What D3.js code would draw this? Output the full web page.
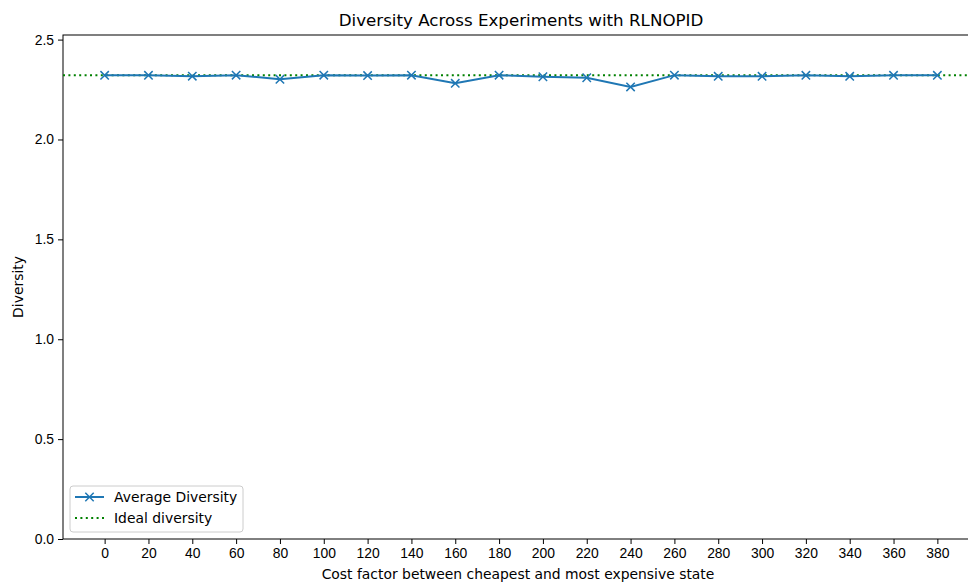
<!DOCTYPE html>
<html>
<head>
<meta charset="utf-8">
<script src="https://cdn.jsdelivr.net/npm/d3@7"></script>
<style>
  body { margin: 0; background: #fff; }
  svg { font-family: "DejaVu Sans", sans-serif; }
</style>
</head>
<body>
<div id="chart"></div>
<script>
// data
const costFactors = [0, 20, 40, 60, 80, 100, 120, 140, 160, 180, 200, 220, 240, 260, 280, 300, 320, 340, 360, 380];
const avgDiversity = [2.321, 2.321, 2.317, 2.322, 2.301, 2.322, 2.320, 2.322, 2.281, 2.322,
                      2.314, 2.309, 2.263, 2.322, 2.316, 2.316, 2.321, 2.316, 2.321, 2.321];
const idealDiversity = Math.log2(5);
const yTicks = [0, 0.5, 1.0, 1.5, 2.0, 2.5];

const width = 968, height = 583;
const margin = {top: 35, right: -11, bottom: 44, left: 63};
const innerW = width - margin.left - margin.right;
const innerH = height - margin.top - margin.bottom;

const svg = d3.select("#chart").append("svg")
  .attr("width", width)
  .attr("height", height);

const g = svg.append("g")
  .attr("transform", "translate(" + margin.left + "," + margin.top + ")");

const xScale = d3.scaleLinear().domain([-19, 399]).range([0, innerW]);
const yScale = d3.scaleLinear().domain([0, 2.523]).range([innerH, 0]);

// axes
const xAxis = g.append("g")
  .attr("transform", "translate(0," + innerH + ")")
  .call(d3.axisBottom(xScale).tickValues(costFactors).tickFormat(d3.format("d")).tickSize(5).tickPadding(4));
const yAxis = g.append("g")
  .call(d3.axisLeft(yScale).tickValues(yTicks).tickFormat(d3.format(".1f")).tickSize(5).tickPadding(4));

[xAxis, yAxis].forEach(a => {
  a.select(".domain").remove();
  a.selectAll("text").style("font-size", "13.9px").attr("fill", "#000");
  a.selectAll("line").attr("stroke", "#000").attr("stroke-width", 1);
});

// frame
g.append("rect")
  .attr("x", 0).attr("y", 0)
  .attr("width", innerW).attr("height", innerH)
  .attr("fill", "none").attr("stroke", "#000").attr("stroke-width", 1);

// ideal line
g.append("line")
  .attr("x1", 0).attr("x2", innerW)
  .attr("y1", yScale(idealDiversity)).attr("y2", yScale(idealDiversity))
  .attr("stroke", "#008000").attr("stroke-width", 2)
  .attr("stroke-dasharray", "2,3.4");

// average line
const pts = costFactors.map((c, i) => [c, avgDiversity[i]]);
g.append("path")
  .datum(pts)
  .attr("fill", "none")
  .attr("stroke", "#1f77b4")
  .attr("stroke-width", 2)
  .attr("d", d3.line().x(d => xScale(d[0])).y(d => yScale(d[1])));

const m = 4.2;
g.selectAll(".marker")
  .data(pts)
  .join("path")
  .attr("class", "marker")
  .attr("transform", d => "translate(" + xScale(d[0]) + "," + yScale(d[1]) + ")")
  .attr("d", `M${-m},${-m}L${m},${m}M${-m},${m}L${m},${-m}`)
  .attr("stroke", "#1f77b4").attr("stroke-width", 1.5);

// title and labels
svg.append("text")
  .attr("x", 521).attr("y", 26)
  .attr("text-anchor", "middle")
  .style("font-size", "16.7px")
  .text("Diversity Across Experiments with RLNOPID");

svg.append("text")
  .attr("x", 518).attr("y", 579)
  .attr("text-anchor", "middle")
  .style("font-size", "13.9px")
  .text("Cost factor between cheapest and most expensive state");

svg.append("text")
  .attr("transform", "translate(23," + (margin.top + innerH / 2) + ") rotate(-90)")
  .attr("text-anchor", "middle")
  .style("font-size", "13.9px")
  .text("Diversity");

// legend
const lg = g.append("g").attr("transform", "translate(7," + (innerH - 53) + ")");
lg.append("rect")
  .attr("width", 173).attr("height", 46).attr("rx", 3)
  .attr("fill", "#fff").attr("fill-opacity", 0.8)
  .attr("stroke", "#ccc").attr("stroke-width", 1);
lg.append("line").attr("x1", 5).attr("x2", 34).attr("y1", 11).attr("y2", 11)
  .attr("stroke", "#1f77b4").attr("stroke-width", 2);
lg.append("path")
  .attr("transform", "translate(19.5,11)")
  .attr("d", `M${-m},${-m}L${m},${m}M${-m},${m}L${m},${-m}`)
  .attr("stroke", "#1f77b4").attr("stroke-width", 1.5);
lg.append("text").attr("x", 44).attr("y", 16).style("font-size", "13.9px").text("Average Diversity");
lg.append("line").attr("x1", 5).attr("x2", 34).attr("y1", 32).attr("y2", 32)
  .attr("stroke", "#008000").attr("stroke-width", 2).attr("stroke-dasharray", "2,3.4");
lg.append("text").attr("x", 44).attr("y", 37).style("font-size", "13.9px").text("Ideal diversity");
</script>
</body>
</html>
